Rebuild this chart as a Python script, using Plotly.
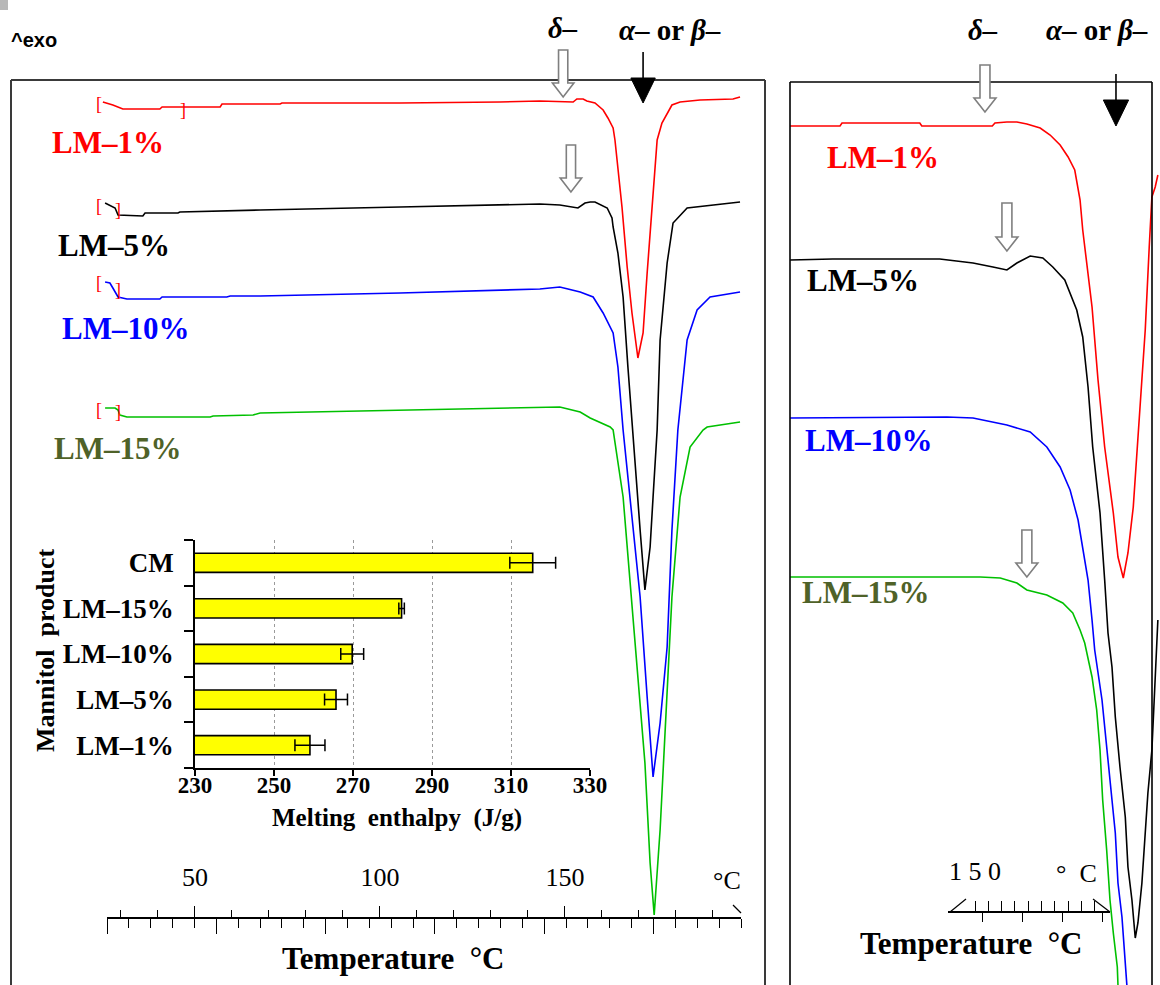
import plotly.graph_objects as go

W, H = 1160, 985
SERIF = "Liberation Serif"
SANS = "Liberation Sans"

# ---------------- DSC thermograms (main panel): temperature (°C) vs heat flow (a.u., exo up) ----------------
lm1_T = [25.1, 27.8, 30.5, 40.5, 41.1, 47.3, 56.8, 57.3, 73.0, 73.5, 105.4, 132.4, 143.2,
         152.2, 153.2, 154.9, 155.9, 158.1, 160.3, 161.6, 163.0, 163.5, 165.4, 166.8, 168.1,
         169.7, 171.1, 172.2, 173.5, 174.9, 176.2, 177.6, 178.9, 181.1, 186.5, 195.4, 197.3]
lm1_HF = [-1.02, -1.05, -1.09, -1.09, -1.07, -1.07, -1.07, -1.04, -1.04, -1.03, -1.03, -1.02, -1.01,
          -1.02, -0.99, -0.99, -1.01, -1.03, -1.10, -1.18, -1.28, -1.40, -2.07, -2.67, -3.13,
          -3.58, -3.33, -2.73, -2.07, -1.40, -1.23, -1.13, -1.05, -1.02, -1.00, -0.99, -0.97]

lm5_T = [25.7, 28.4, 29.2, 35.9, 36.5, 45.4, 45.9, 55.9, 67.6, 105.4, 143.2, 148.6, 151.9, 153.5,
         155.4, 156.8, 158.1, 160.0, 161.4, 162.7, 163.0, 164.3, 165.7, 167.0, 168.4, 168.9, 170.3,
         171.6, 173.0, 173.8, 174.9, 175.7, 177.6, 179.2, 183.0, 197.3]
lm5_HF = [-2.03, -2.08, -2.15, -2.16, -2.13, -2.13, -2.12, -2.11, -2.10, -2.07, -2.04, -2.05, -2.07, -2.08,
          -2.03, -2.02, -2.02, -2.05, -2.08, -2.18, -2.27, -2.53, -2.97, -3.67, -4.40, -4.63, -5.30,
          -5.90, -5.47, -4.97, -4.30, -3.40, -2.63, -2.23, -2.08, -2.02]

lm10_T = [25.7, 27.0, 27.8, 29.2, 31.6, 40.5, 41.1, 58.6, 59.5, 67.6, 105.4, 143.2, 148.6, 154.1,
          157.6, 160.3, 163.0, 164.3, 165.7, 167.6, 170.3, 172.2, 173.8, 175.7, 177.6, 178.9, 180.5,
          183.0, 185.7, 189.2, 197.3]
lm10_HF = [-2.82, -2.83, -2.88, -2.97, -2.99, -2.99, -2.97, -2.97, -2.96, -2.96, -2.93, -2.89, -2.87, -2.92,
           -2.97, -3.13, -3.33, -3.67, -4.30, -4.97, -5.97, -6.97, -7.77, -7.23, -6.47, -5.30, -4.30,
           -3.40, -3.10, -2.97, -2.92]

lm15_T = [25.7, 28.4, 29.2, 29.7, 31.6, 54.1, 54.9, 65.7, 67.6, 105.4, 143.2, 148.6, 154.1, 156.8,
          162.2, 163.0, 165.7, 167.6, 169.7, 171.6, 173.0, 174.1, 175.7, 177.0, 178.9, 181.1, 183.8,
          187.3, 188.4, 197.3]
lm15_HF = [-4.08, -4.08, -4.10, -4.15, -4.17, -4.17, -4.16, -4.15, -4.13, -4.10, -4.07, -4.07, -4.12, -4.18,
           -4.27, -4.30, -4.97, -5.80, -6.80, -7.63, -8.63, -9.15, -8.30, -7.30, -5.97, -4.97, -4.47,
           -4.30, -4.27, -4.22]

# ---------------- DSC thermograms (enlarged panel) ----------------
r_lm1_T = [122.2, 129.7, 130.0, 141.7, 142.0, 152.6, 153.0, 154.8, 156.3, 157.8, 159.8, 161.3, 162.8,
           164.0, 165.0, 165.5, 165.8, 166.2, 167.6, 168.5, 169.5, 170.8, 171.5, 172.3, 173.0, 173.8,
           174.8, 175.6, 176.2, 176.6, 177.1, 177.5]
r_lm1_HF = [-1.26, -1.26, -1.23, -1.23, -1.26, -1.26, -1.23, -1.22, -1.22, -1.24, -1.28, -1.35, -1.45,
            -1.57, -1.70, -1.87, -2.00, -2.30, -3.07, -3.80, -4.47, -5.13, -5.57, -5.78, -5.53, -5.07,
            -4.13, -3.30, -2.47, -1.97, -1.87, -1.75]

r_lm5_T = [122.2, 128.6, 144.7, 149.7, 152.7, 154.8, 156.3, 158.3, 160.2, 161.7, 163.5, 165.3, 166.2,
           167.0, 167.7, 168.8, 169.5, 170.0, 170.6, 171.1, 171.8, 172.6, 173.0, 173.6, 174.1, 174.5,
           175.1, 175.6, 176.0, 176.6, 177.1, 177.5]
r_lm5_HF = [-2.60, -2.59, -2.59, -2.63, -2.67, -2.70, -2.63, -2.56, -2.58, -2.67, -2.80, -3.10, -3.37,
            -3.87, -4.47, -5.13, -5.80, -6.33, -6.67, -7.17, -7.67, -8.17, -8.67, -9.00, -9.38, -9.23,
            -8.83, -8.33, -7.93, -7.50, -6.80, -6.20]

r_lm10_T = [122.2, 145.8, 149.7, 154.8, 158.3, 160.8, 162.8, 164.3, 165.5, 166.2, 167.0, 167.6, 168.0,
            169.1, 169.8, 170.6, 171.1, 171.5, 172.1, 172.6, 173.0]
r_lm10_HF = [-4.18, -4.17, -4.18, -4.25, -4.32, -4.47, -4.67, -4.90, -5.20, -5.47, -5.80, -6.20, -6.50,
             -7.00, -7.50, -8.00, -8.33, -8.83, -9.17, -9.67, -10.0]

r_lm15_T = [122.2, 150.8, 153.8, 156.3, 157.8, 160.8, 163.2, 164.7, 165.8, 166.5, 167.6, 168.3, 168.8,
            169.2, 169.8, 170.3, 170.8, 171.4, 171.5, 171.7]
r_lm15_HF = [-5.77, -5.77, -5.78, -5.83, -5.90, -5.95, -6.03, -6.13, -6.30, -6.43, -6.77, -7.10, -7.50,
             -8.00, -8.50, -9.00, -9.33, -9.67, -9.85, -10.0]

# ---------------- Inset: melting enthalpy ----------------
products = ["LM–1%", "LM–5%", "LM–10%", "LM–15%", "CM"]
enthalpy = [259.1, 265.7, 269.8, 282.3, 315.5]
enthalpy_err = [3.8, 2.9, 2.9, 0.7, 5.8]
enthalpy_ticks = [230, 250, 270, 290, 310, 330]

# ruler tick values
ruler_major = [50, 100, 150]
ruler_minor = [30, 40, 60, 70, 80, 90, 110, 120, 130, 140, 160, 170, 180, 190]
ruler_time_major = [0, 5, 10, 15, 20, 25]
ruler_time_minor = [1, 2, 3, 4, 6, 7, 8, 9, 11, 12, 13, 14, 16, 17, 18, 19, 21, 22, 23, 24, 26, 27, 28, 29]
r_ruler_major = [150]
r_ruler_minor = [152, 154, 156, 158, 160, 162, 164, 166, 168]
r_ruler_time = [0, 1, 2, 3]

series_colors = {"LM–1%": "#FF0000", "LM–5%": "#000000", "LM–10%": "#0000FF", "LM–15%": "#00C000"}
label_colors = {"LM–1%": "#FF0000", "LM–5%": "#000000", "LM–10%": "#0000FF", "LM–15%": "#4F6228"}

fig = go.Figure()

left = [("LM–1%", lm1_T, lm1_HF), ("LM–5%", lm5_T, lm5_HF),
        ("LM–10%", lm10_T, lm10_HF), ("LM–15%", lm15_T, lm15_HF)]
right = [("LM–1%", r_lm1_T, r_lm1_HF), ("LM–5%", r_lm5_T, r_lm5_HF),
         ("LM–10%", r_lm10_T, r_lm10_HF), ("LM–15%", r_lm15_T, r_lm15_HF)]

# Inset bars
fig.add_trace(go.Bar(
    x=enthalpy, y=products, orientation="h", xaxis="x5", yaxis="y5", width=0.42,
    marker=dict(color="#FFFF00", line=dict(color="black", width=1.6)),
    error_x=dict(type="data", array=enthalpy_err, visible=True, color="black", thickness=1.5, width=6),
    showlegend=False, hoverinfo="skip"))

for name, t, hf in left:
    fig.add_trace(go.Scatter(x=t, y=hf, mode="lines", xaxis="x", yaxis="y",
                             line=dict(color=series_colors[name], width=1.6), showlegend=False))
for name, t, hf in right:
    fig.add_trace(go.Scatter(x=t, y=hf, mode="lines", xaxis="x2", yaxis="y2",
                             line=dict(color=series_colors[name], width=1.6), showlegend=False))

# empty traces so that the ruler axes get drawn
for xa, ya in [("x3", "y"), ("x4", "y"), ("x6", "y2"), ("x7", "y2")]:
    fig.add_trace(go.Scatter(x=[], y=[], xaxis=xa, yaxis=ya, showlegend=False))

ruler_y_left = 1 - 918 / H
ruler_y_right = 1 - 912 / H

def ruler(domain, rng, side, pos, tickvals, ticklen, minor_vals, minor_len, labels=None,
          standoff=0, fsize=24):
    d = dict(domain=domain, range=rng, anchor="free", position=pos, side=side,
             showline=True, linecolor="black", linewidth=1.5, showgrid=False, zeroline=False,
             ticks="outside", tickmode="array", tickvals=tickvals, ticklen=ticklen,
             tickwidth=1.3, tickcolor="black", fixedrange=True)
    if minor_vals:
        d["minor"] = dict(tickmode="array", tickvals=minor_vals, ticklen=minor_len, tickwidth=1.3,
                          tickcolor="black", ticks="outside", showgrid=False)
    if labels is None:
        d["showticklabels"] = False
    else:
        d["ticktext"] = labels
        d["tickfont"] = dict(family=SERIF, size=fsize, color="black")
        d["ticklabelstandoff"] = standoff
    return d

fig.update_layout(
    template="none",
    width=W, height=H, margin=dict(l=0, r=0, t=0, b=0),
    paper_bgcolor="white", plot_bgcolor="rgba(0,0,0,0)", showlegend=False,
    xaxis=dict(domain=[11 / W, 765 / W], range=[0.27, 204.05], visible=False, fixedrange=True),
    yaxis=dict(domain=[0, 1], range=[-9.85, 0], visible=False, fixedrange=True),
    xaxis2=dict(domain=[790 / W, 1.0], range=[122.18, 177.82], visible=False, anchor="y2"),
    yaxis2=dict(domain=[0, 1], range=[-9.85, 0], visible=False, anchor="x2"),
    xaxis3=ruler([107 / W, 741 / W], [26.22, 197.57], "top", ruler_y_left, ruler_major, 11,
                 ruler_minor, 7, labels=[str(v) for v in ruler_major], standoff=10, fsize=26),
    xaxis4=ruler([107 / W, 741 / W], [0, 29], "bottom", ruler_y_left, ruler_time_major, 15,
                 ruler_time_minor, 9),
    xaxis6=ruler([948 / W, 1110 / W], [145.94, 170.30], "top", ruler_y_right, r_ruler_major, 10,
                 r_ruler_minor, 10, labels=["1 5 0"], standoff=11, fsize=26),
    xaxis7=ruler([948 / W, 1110 / W], [-0.85, 3.2], "bottom", ruler_y_right, r_ruler_time, 9, None, 0),
    xaxis5=dict(domain=[195 / W, 590 / W], anchor="y5", range=[230, 330],
                showline=True, linecolor="black", linewidth=1.6, ticks="outside", ticklen=6,
                tickwidth=1.5, tickcolor="black", tickmode="array", tickvals=enthalpy_ticks,
                tickfont=dict(family=SERIF, size=23, color="black", weight="bold"),
                ticklabelstandoff=-10,
                showgrid=True, gridcolor="#9a9a9a", griddash="dot", gridwidth=1, zeroline=False),
    yaxis5=dict(domain=[1 - 768 / H, 1 - 540 / H], anchor="x5", type="category",
                categoryorder="array", categoryarray=products, range=[-0.5, 4.5],
                showline=True, linecolor="black", linewidth=1.6, ticks="outside", ticklen=9,
                tickwidth=1.5, tickcolor="black", tickson="boundaries", showgrid=False,
                tickfont=dict(family=SERIF, size=27, color="black", weight="bold"),
                ticklabelstandoff=14),
)

ann = []
def txt(x, y, text, size, xref="paper", yref="paper", color="black", xanchor="center",
        family=SERIF, bold=True, italic=False, angle=0, yanchor="middle"):
    ann.append(dict(x=x, y=y, xref=xref, yref=yref, text=text, showarrow=False,
                    xanchor=xanchor, yanchor=yanchor, textangle=angle,
                    font=dict(family=family, size=size, color=color,
                              weight="bold" if bold else "normal",
                              style="italic" if italic else "normal")))

txt(9 / W, 1 - 40 / H, "^exo", 20, xanchor="left", family=SANS)

# phase labels
txt(149.5, -0.28, "δ–", 29, xref="x", yref="y", italic=True)
txt(178.4, -0.30, "<i>α</i>– or <i>β</i>–", 29, xref="x", yref="y")
txt(151.2, -0.30, "δ–", 29, xref="x2", yref="y2", italic=True)
txt(168.3, -0.30, "<i>α</i>– or <i>β</i>–", 29, xref="x2", yref="y2")

# curve labels
left_label_pos = {"LM–1%": (10.8, -1.42), "LM–5%": (12.4, -2.45), "LM–10%": (13.5, -3.28), "LM–15%": (11.4, -4.48)}
right_label_pos = {"LM–1%": (127.4, -1.57), "LM–5%": (124.4, -2.80), "LM–10%": (124.1, -4.40), "LM–15%": (123.7, -5.92)}
for name, (lx, ly) in left_label_pos.items():
    txt(lx, ly, name, 31, xref="x", yref="y", color=label_colors[name], xanchor="left")
for name, (lx, ly) in right_label_pos.items():
    txt(lx, ly, name, 31, xref="x2", yref="y2", color=label_colors[name], xanchor="left")

# integration brackets
brackets = [("[", 24.1, -1.04), ("]", 46.8, -1.10), ("[", 24.1, -2.06), ("]", 29.2, -2.10),
            ("[", 24.1, -2.83), ("]", 29.2, -2.90), ("[", 24.1, -4.10), ("]", 29.2, -4.12)]
for b, bx, by in brackets:
    txt(bx, by, b, 18, xref="x", yref="y", color="#FF0000", bold=False)

# ruler units and titles
txt(727 / W, 1 - 880 / H, "°C", 26, bold=False)
txt(393 / W, 1 - 958 / H, "Temperature  °C", 31)
txt(1076 / W, 1 - 873 / H, "°\u2002C", 26, bold=False)
txt(971 / W, 1 - 943 / H, "Temperature  °C", 31)

# inset titles
txt(397 / W, 1 - 818 / H, "Melting  enthalpy  (J/g)", 25)
txt(45 / W, 1 - 650 / H, "Mannitol  product", 26, angle=-90)

shapes = []
def pline(x0, y0, x1, y1, color="black", width=1.5):
    shapes.append(dict(type="line", xref="paper", yref="paper", x0=x0 / W, x1=x1 / W,
                       y0=1 - y0 / H, y1=1 - y1 / H, line=dict(color=color, width=width)))

# panel frames
pline(11, 80, 765, 80, "#3a3a3a", 2)
pline(11, 80, 11, 990, "#3a3a3a", 2)
pline(765, 80, 765, 990, "#3a3a3a", 2)
pline(790, 82, 1152, 82, "black", 1.6)
pline(790, 82, 790, 990, "black", 1.6)
pline(1152, 82, 1152, 990, "black", 1.6)
# ruler end marks
pline(733, 905, 741, 913, "black", 1.2)
pline(950, 912, 966, 899, "black", 1.2)
pline(1093, 899, 1110, 912, "black", 1.2)
# corner artefact
shapes.append(dict(type="rect", xref="paper", yref="paper", x0=0, x1=8 / W, y0=1 - 10 / H, y1=1,
                   fillcolor="#b8b8b8", line=dict(width=0)))

# hollow arrows marking delta-form transitions: (x, top, tip)
hollow_left = [(149.5, -0.50, -0.97), (151.6, -1.45, -1.92)]
hollow_right = [(151.5, -0.65, -1.12), (154.8, -2.03, -2.51), (157.8, -5.30, -5.77)]

def hollow(xr, yr, xc, top, tip, shw, hhw, hh):
    p = (f"M {xc - shw},{top} L {xc + shw},{top} L {xc + shw},{tip + hh} L {xc + hhw},{tip + hh} "
         f"L {xc},{tip} L {xc - hhw},{tip + hh} L {xc - shw},{tip + hh} Z")
    shapes.append(dict(type="path", xref=xr, yref=yr, path=p, fillcolor="white",
                       line=dict(color="#7f7f7f", width=1.6)))

for xc, top, tip in hollow_left:
    hollow("x", "y", xc, top, tip, 1.25, 2.9, 0.14)
for xc, top, tip in hollow_right:
    hollow("x2", "y2", xc, top, tip, 0.75, 1.65, 0.14)

# solid arrows for alpha/beta melting: (x, line top, head base, tip, half width)
solid = [("x", "y", 171.1, -0.52, -0.78, -1.03, 3.3), ("x2", "y2", 171.2, -0.74, -1.00, -1.26, 1.9)]
for xr, yr, xc, top, base, tip, hw in solid:
    shapes.append(dict(type="line", xref=xr, yref=yr, x0=xc, x1=xc, y0=top, y1=base,
                       line=dict(color="black", width=1.6)))
    shapes.append(dict(type="path", xref=xr, yref=yr,
                       path=f"M {xc - hw},{base} L {xc + hw},{base} L {xc},{tip} Z",
                       fillcolor="black", line=dict(color="black", width=1)))

fig.update_layout(annotations=ann, shapes=shapes)
fig.write_html("out.html")
